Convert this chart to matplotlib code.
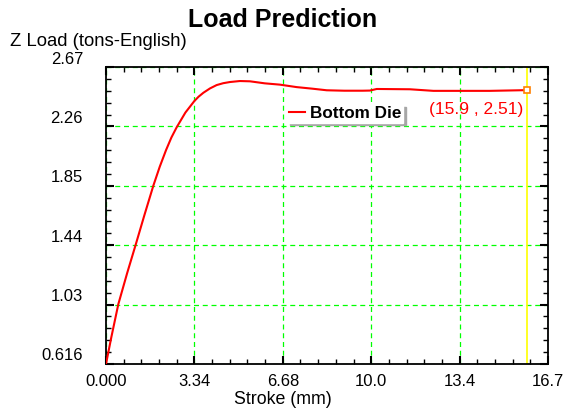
import matplotlib
matplotlib.use("Agg")
import matplotlib.pyplot as plt
import matplotlib.transforms as mtrans
from matplotlib.ticker import AutoMinorLocator

plt.rcParams['font.family'] = ['Liberation Sans', 'DejaVu Sans']

# ---- data ----
stroke = [0.0, 0.2, 0.466, 0.8, 1.12, 1.45, 1.79, 2.03, 2.27, 2.47, 2.67, 3.0,
          3.34, 3.5, 3.68, 3.93, 4.18, 4.43, 4.68, 5.06, 5.44, 6.0, 6.57, 7.2,
          7.8, 8.34, 9.0, 9.7, 9.97, 10.23, 11.48, 12.37, 13.4, 14.5, 15.9]
load = [0.616, 0.80, 1.03, 1.245, 1.44, 1.645, 1.85, 1.98, 2.096, 2.182, 2.253, 2.355,
        2.435, 2.465, 2.492, 2.522, 2.545, 2.558, 2.566, 2.573, 2.571, 2.557, 2.548, 2.531,
        2.52, 2.509, 2.506, 2.506, 2.507, 2.518, 2.516, 2.505, 2.505, 2.505, 2.51]
x_ticks = [0.0, 3.34, 6.68, 10.02, 13.36, 16.7]
x_tick_labels = ["0.000", "3.34", "6.68", "10.0", "13.4", "16.7"]
y_ticks = [0.616, 1.0268, 1.4376, 1.8484, 2.2592, 2.67]
y_tick_labels = ["0.616", "1.03", "1.44", "1.85", "2.26", "2.67"]
series_name = "Bottom Die"
cursor_x = 15.9
title = "Load Prediction"
x_label = "Stroke (mm)"
y_label = "Z Load (tons-English)"

fig = plt.figure(figsize=(5.66, 4.08), dpi=100)
ax = fig.add_axes([106/566, 44/408, 442/566, 297/408])

ax.set_xlim(x_ticks[0], x_ticks[-1])
ax.set_ylim(y_ticks[0], y_ticks[-1])

ax.grid(True, which='major', color='#00ff00', linestyle=(0, (4, 3)), linewidth=0.9)
ax.set_axisbelow(True)

ax.axvline(cursor_x, color='#ffff00', linewidth=1.2, zorder=2)

ax.plot(stroke, load, color='#ff0000', linewidth=1.5, label=series_name, zorder=3)
ax.plot([stroke[-1]], [load[-1]], marker='s', markersize=4.5, markerfacecolor='white',
        markeredgecolor='#ff8000', markeredgewidth=1.2, linestyle='none', zorder=4)
ax.annotate(f"({stroke[-1]:.1f} , {load[-1]:.2f})", xy=(stroke[-1], load[-1]),
            xytext=(-2.5, -14.3), textcoords='offset points', ha='right', va='center',
            color='#ff0000', fontsize=12.5)

ax.set_xticks(x_ticks)
ax.set_xticklabels(x_tick_labels)
ax.set_yticks(y_ticks)
ax.set_yticklabels(y_tick_labels)
ax.xaxis.set_minor_locator(AutoMinorLocator(5))
ax.yaxis.set_minor_locator(AutoMinorLocator(5))
ax.tick_params(which='both', direction='in', top=True, right=True, colors='black',
               labelsize=12)
ax.tick_params(which='major', length=6, width=1.5)
ax.tick_params(which='minor', length=3.8, width=1.0)
ax.tick_params(axis='x', which='major', pad=7)
ax.tick_params(axis='y', which='major', pad=16.5)

off = mtrans.ScaledTranslation(0, 0.095, fig.dpi_scale_trans)
for lbl in ax.get_yticklabels():
    lbl.set_transform(lbl.get_transform() + off)

for s in ax.spines.values():
    s.set_linewidth(1.3)
    s.set_color('black')

fig.text(0.5, 1 - 20/408, title, ha='center', va='center', fontsize=18, fontweight='bold')

ax.set_xlabel(x_label, fontsize=12.8)
ax.xaxis.set_label_coords(0.5, 1 - 399/408, transform=fig.transFigure)
ax.xaxis.label.set_va('center')

ax.set_ylabel(y_label, fontsize=13.3, rotation=0, ha='left', va='center')
ax.yaxis.set_label_coords(10/566, 1 - 42/408, transform=fig.transFigure)

leg = ax.legend(loc='upper left', bbox_to_anchor=(0.411, 0.875), frameon=True,
                fancybox=False, facecolor='white', edgecolor='white', framealpha=1,
                shadow={'color': '0.65', 'alpha': 1}, handlelength=0.9, handletextpad=0.3,
                borderpad=0.1, borderaxespad=0, prop={'weight': 'bold', 'size': 12.3})

fig.savefig("out.png", dpi=100)
